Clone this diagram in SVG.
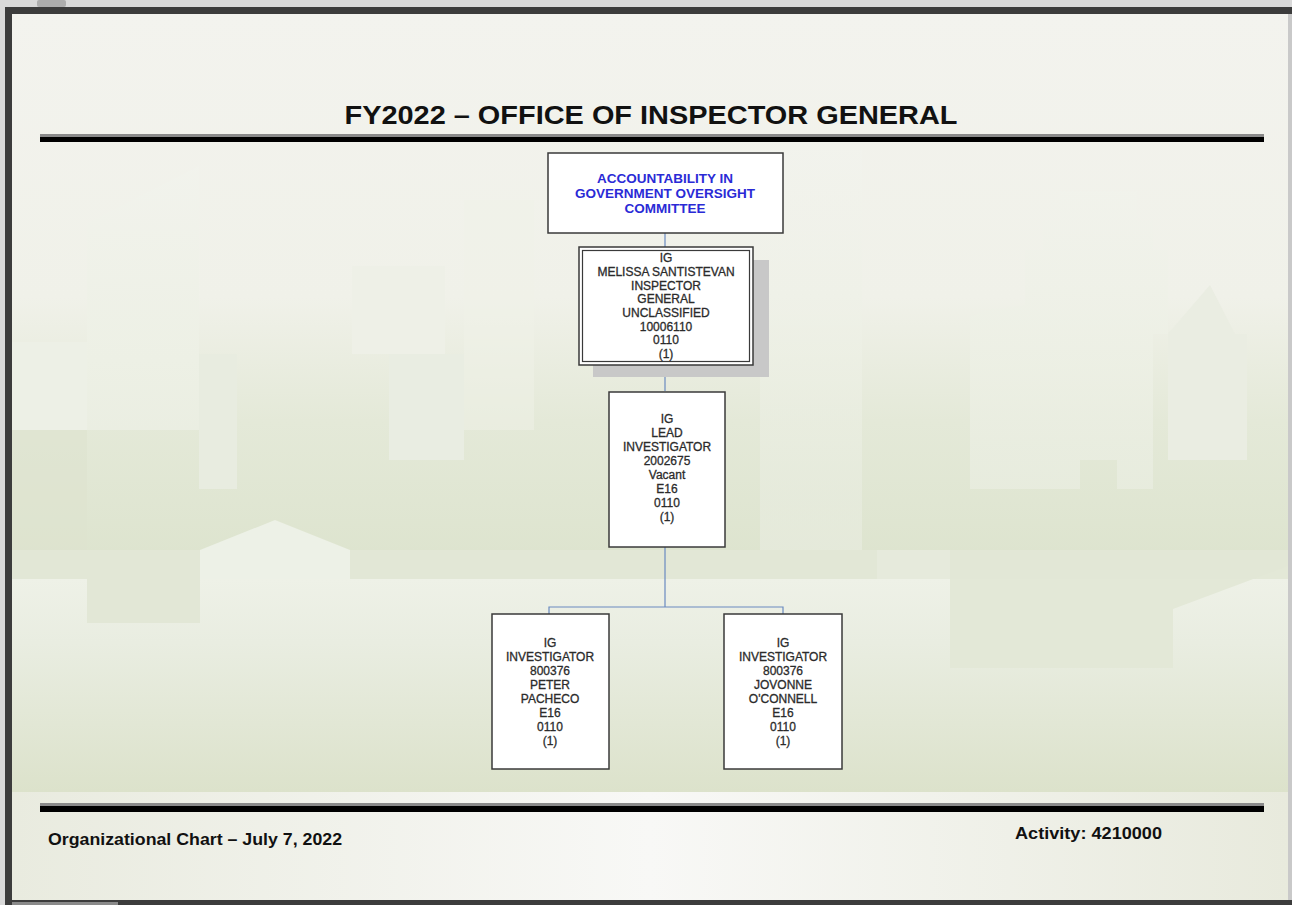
<svg xmlns="http://www.w3.org/2000/svg" width="1292" height="905" viewBox="0 0 1292 905">
  <style>
    .node { fill: #ffffff; stroke: #3a3a3a; stroke-width: 1.5; }
    .ntext { font-family: "Liberation Sans", Arial, sans-serif; font-size: 12px; fill: #2b2b2b; stroke: #2b2b2b; stroke-width: 0.3; text-anchor: middle; }
    .ctext { font-family: "Liberation Sans", Arial, sans-serif; font-size: 13.5px; font-weight: bold; fill: #2a2ad6; text-anchor: middle; }
    .conn { fill: none; stroke: #6a8ac0; stroke-width: 1.2; }
    .foot { font-family: "Liberation Sans", Arial, sans-serif; font-size: 17px; font-weight: bold; fill: #111; }
  </style>
  <defs>
    <linearGradient id="sky" gradientUnits="userSpaceOnUse" x1="0" y1="14" x2="0" y2="580">
      <stop offset="0" stop-color="#f3f3ee"/>
      <stop offset="0.5" stop-color="#f0f1e9"/>
      <stop offset="0.72" stop-color="#e4e9d8"/>
      <stop offset="1" stop-color="#dce3cd"/>
    </linearGradient>
    <linearGradient id="lower" gradientUnits="userSpaceOnUse" x1="0" y1="579" x2="0" y2="792">
      <stop offset="0" stop-color="#eef1e7"/>
      <stop offset="0.3" stop-color="#e9ede1"/>
      <stop offset="1" stop-color="#dce2cb"/>
    </linearGradient>
    <linearGradient id="bldg" gradientUnits="userSpaceOnUse" x1="0" y1="150" x2="0" y2="500">
      <stop offset="0" stop-color="#f2f3ed"/>
      <stop offset="0.6" stop-color="#edf0e5"/>
      <stop offset="1" stop-color="#e8ecdf"/>
    </linearGradient>
    <linearGradient id="footer" gradientUnits="userSpaceOnUse" x1="12" y1="0" x2="1288" y2="0">
      <stop offset="0" stop-color="#e9ebdf"/>
      <stop offset="0.5" stop-color="#f8f8f6"/>
      <stop offset="1" stop-color="#e8eadd"/>
    </linearGradient>
  </defs>

  <!-- window frame -->
  <rect x="0" y="0" width="1292" height="905" fill="#d9d9d9"/>
  <rect x="37" y="0" width="29" height="7" rx="2" fill="#adadad"/>
  <rect x="5" y="7" width="1287" height="898" fill="#3c3c3c"/>
  <rect x="12" y="902" width="106" height="3" fill="#8a8a8a"/>
  <rect x="1288" y="14" width="4" height="886" fill="#c9c9c9"/>

  <!-- background scene -->
  <g id="background">
    <rect x="12" y="14" width="1276" height="886" fill="url(#sky)"/>
    <polygon points="87,223 199,166 199,430 87,430" fill="url(#bldg)"/>
    <rect x="12" y="342" width="75" height="88" fill="#edf0e6"/>
    <rect x="199" y="354" width="38" height="135" fill="#e8ece0"/>
    <rect x="352" y="266" width="93" height="88" fill="#eef0e7"/>
    <rect x="389" y="354" width="75" height="106" fill="#e9ede2"/>
    <rect x="464" y="200" width="70" height="230" fill="#eff1e8" opacity="0.5"/>
    <rect x="760" y="150" width="102" height="400" fill="url(#bldg)" opacity="0.7"/>
    <polygon points="970,317 985,310 1025,305 1025,250 1043,250 1043,221 1060,221 1060,191 1137,191 1137,221 1153,221 1153,250 1168,250 1168,334 1153,334 1153,489 1117,489 1117,460 1080,460 1080,489 970,489" fill="url(#bldg)" opacity="0.85"/>
    <polygon points="1168,334 1210,285 1235,334 1247,334 1247,460 1168,460" fill="#eaede2"/>
    <rect x="12" y="430" width="75" height="120" fill="#dde3ce" opacity="0.6"/>
    <rect x="12" y="550" width="188" height="29" fill="#e2e7d6"/>
    <rect x="350" y="550" width="938" height="29" fill="#e2e7d6"/>
    <rect x="12" y="579" width="1276" height="213" fill="url(#lower)"/>
    <polygon points="200,550 275,520 350,550 350,579 200,579" fill="#edf1e7"/>
    <rect x="87" y="579" width="113" height="44" fill="#e2e7d6"/>
    <polygon points="950,579 1288,579 1288,566 1173,609 1173,668 950,668" fill="#e3e8d7"/>
    <rect x="877" y="550" width="73" height="29" fill="#e6eadc"/>
    <rect x="12" y="792" width="1276" height="108" fill="url(#footer)"/>
  </g>

  <!-- title -->
  <g id="title">
    <text x="651" y="124" font-family="'Liberation Sans', Arial, sans-serif" font-size="25" font-weight="bold" fill="#111" text-anchor="middle" textLength="613" lengthAdjust="spacingAndGlyphs">FY2022 – OFFICE OF INSPECTOR GENERAL</text>
    <rect x="40" y="134" width="1224" height="3" fill="#8a8a8a"/>
    <rect x="40" y="137" width="1224" height="5" fill="#000"/>
  </g>

  <!-- connectors -->
  <g id="connectors">
    <path class="conn" d="M665 233 V247"/>
    <path class="conn" d="M665 365 V391"/>
    <path class="conn" d="M665 547 V607 M549 614 V607 H783 V614"/>
  </g>

  <!-- nodes -->
  <g id="committee">
    <rect class="node" x="548" y="153" width="235" height="80"/>
    <text class="ctext" x="665" y="183">ACCOUNTABILITY IN</text>
    <text class="ctext" x="665" y="198">GOVERNMENT OVERSIGHT</text>
    <text class="ctext" x="665" y="213">COMMITTEE</text>
  </g>

  <g id="inspector-general">
    <rect x="593" y="260" width="176" height="117" fill="#c8c8c8"/>
    <rect class="node" x="579" y="247" width="174" height="118"/>
    <rect x="582.5" y="250.5" width="167" height="111" fill="none" stroke="#3a3a3a" stroke-width="1.2"/>
    <text class="ntext" x="666" y="262">IG</text>
    <text class="ntext" x="666" y="276">MELISSA SANTISTEVAN</text>
    <text class="ntext" x="666" y="290">INSPECTOR</text>
    <text class="ntext" x="666" y="303">GENERAL</text>
    <text class="ntext" x="666" y="317">UNCLASSIFIED</text>
    <text class="ntext" x="666" y="331">10006110</text>
    <text class="ntext" x="666" y="344">0110</text>
    <text class="ntext" x="666" y="358">(1)</text>
  </g>

  <g id="lead-investigator">
    <rect class="node" x="609" y="392" width="116" height="155"/>
    <text class="ntext" x="667" y="423">IG</text>
    <text class="ntext" x="667" y="437">LEAD</text>
    <text class="ntext" x="667" y="451">INVESTIGATOR</text>
    <text class="ntext" x="667" y="465">2002675</text>
    <text class="ntext" x="667" y="479">Vacant</text>
    <text class="ntext" x="667" y="493">E16</text>
    <text class="ntext" x="667" y="507">0110</text>
    <text class="ntext" x="667" y="521">(1)</text>
  </g>

  <g id="investigator-pacheco">
    <rect class="node" x="492" y="614" width="117" height="155"/>
    <text class="ntext" x="550" y="647">IG</text>
    <text class="ntext" x="550" y="661">INVESTIGATOR</text>
    <text class="ntext" x="550" y="675">800376</text>
    <text class="ntext" x="550" y="689">PETER</text>
    <text class="ntext" x="550" y="703">PACHECO</text>
    <text class="ntext" x="550" y="717">E16</text>
    <text class="ntext" x="550" y="731">0110</text>
    <text class="ntext" x="550" y="745">(1)</text>
  </g>

  <g id="investigator-oconnell">
    <rect class="node" x="724" y="614" width="118" height="155"/>
    <text class="ntext" x="783" y="647">IG</text>
    <text class="ntext" x="783" y="661">INVESTIGATOR</text>
    <text class="ntext" x="783" y="675">800376</text>
    <text class="ntext" x="783" y="689">JOVONNE</text>
    <text class="ntext" x="783" y="703">O'CONNELL</text>
    <text class="ntext" x="783" y="717">E16</text>
    <text class="ntext" x="783" y="731">0110</text>
    <text class="ntext" x="783" y="745">(1)</text>
  </g>

  <!-- footer -->
  <g id="footer-block">
    <rect x="40" y="803" width="1224" height="3" fill="#8a8a8a"/>
    <rect x="40" y="806" width="1224" height="6" fill="#000"/>
    <text class="foot" x="48" y="845" textLength="294" lengthAdjust="spacingAndGlyphs">Organizational Chart – July 7, 2022</text>
    <text class="foot" x="1015" y="839" textLength="147" lengthAdjust="spacingAndGlyphs">Activity: 4210000</text>
  </g>
</svg>
